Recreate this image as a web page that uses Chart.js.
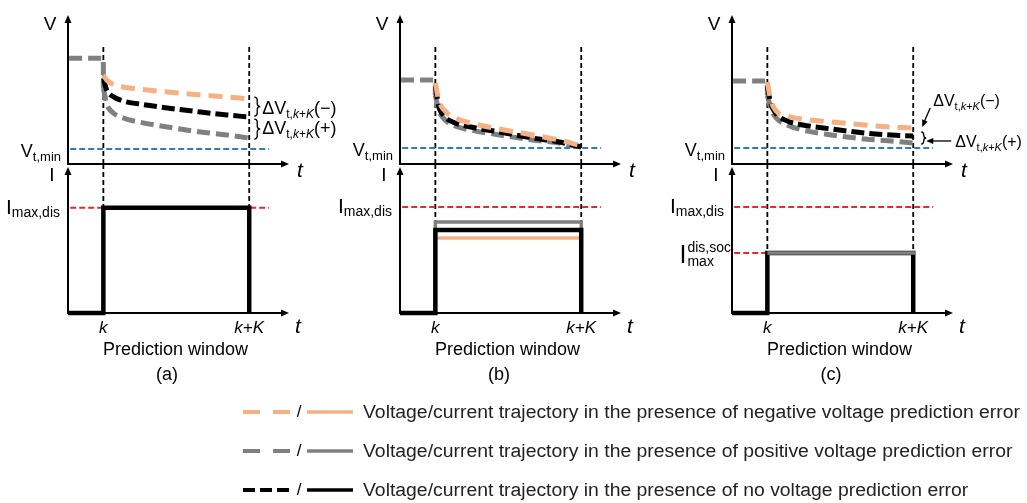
<!DOCTYPE html>
<html><head><meta charset="utf-8">
<script src="https://cdn.jsdelivr.net/npm/chart.js@4.4.1/dist/chart.umd.min.js"></script>
<style>
html,body{margin:0;padding:0;background:#fff;overflow:hidden;width:1027px;height:503px}
canvas.c{position:absolute;left:0;top:0}
</style></head>
<body>
<canvas id="va" class="c" width="1027" height="503"></canvas>
<canvas id="ia" class="c" width="1027" height="503"></canvas>
<canvas id="vb" class="c" width="1027" height="503"></canvas>
<canvas id="ib" class="c" width="1027" height="503"></canvas>
<canvas id="vc" class="c" width="1027" height="503"></canvas>
<canvas id="ic" class="c" width="1027" height="503"></canvas>
<script>
// ---------- data (arbitrary schematic units) ----------
const T_K = 1.6, T_KK = 8.2, T_END = 10, T_REF_START = 0.1, T_REF_END = 9.1;
const tickLabels = ['k', 'k+K'];
const tCurve = [1.6, 1.75, 2.0, 2.5, 3.2, 4.5, 6.0, 7.2, 8.2];

// panel (a)
const aVInit = 7.1, aVMin = 1.0, aIMaxDis = 7.2, aINone = 7.2;
const aVNeg  = [5.97, 5.64, 5.37, 5.17, 5.03, 4.83, 4.63, 4.50, 4.36];
const aVNone = [5.77, 4.97, 4.56, 4.23, 4.03, 3.76, 3.49, 3.29, 3.15];
const aVPos  = [5.10, 4.03, 3.49, 3.09, 2.82, 2.48, 2.15, 1.95, 1.74];

// panel (b)
const bVInit = 5.64, bVMin = 1.07, bIMaxDis = 7.26;
const bVNeg  = [5.44, 4.30, 3.62, 3.09, 2.75, 2.35, 1.95, 1.61, 1.21];
const bVNone = [5.23, 3.89, 3.22, 2.75, 2.48, 2.15, 1.74, 1.48, 1.14];
const bVPos  = [4.63, 3.62, 3.02, 2.55, 2.28, 1.95, 1.61, 1.41, 1.14];
const bINeg = 5.14, bINone = 5.68, bIPos = 6.23;

// panel (c)
const cVInit = 5.57, cVMin = 1.07, cIMaxDis = 7.26, cIMaxSoc = 4.11;
const cVNeg  = [5.50, 4.30, 3.56, 3.22, 3.02, 2.82, 2.62, 2.48, 2.42];
const cVNone = [5.23, 4.09, 3.36, 2.89, 2.62, 2.35, 2.08, 1.95, 1.88];
const cVPos  = [4.63, 3.76, 3.09, 2.62, 2.28, 1.95, 1.68, 1.54, 1.41];

const panelLabels = ['(a)', '(b)', '(c)'];
const xTitle = 'Prediction window';
const legendLabels = [
  'Voltage/current trajectory in the presence of negative voltage prediction error',
  'Voltage/current trajectory in the presence of positive voltage prediction error',
  'Voltage/current trajectory in the presence of no voltage prediction error'
];

// ---------- style / layout ----------
const FAMILY = '"Liberation Sans", Arial, sans-serif';
const C_NEG = '#F4B183', C_POS = '#808080', C_NONE = '#000000';
const C_BLUE = '#2E7BC4', C_RED = '#E62A2A';
const AXIS_X = [68, 400, 732], PANEL_W = 221;
const V_TOP = 15, V_BASE = 164, I_BASE = 313;
const V_MAX = 10, I_MAX = 10.2, V_KLINE_TOP = 8.0, I_TIP = 10.0;

const pts = (ts, vs) => ts.map((t, i) => ({x: t, y: vs[i]}));
function ds(data, color, width, dash, extra) {
  return Object.assign({data, borderColor: color, borderWidth: width, borderDash: dash || [],
    pointRadius: 0, fill: false, tension: 0, clip: false, borderCapStyle: 'butt', borderJoinStyle: 'miter'}, extra || {});
}
const curve = (vs, color, dash) => ds(pts(tCurve, vs), color, 5, dash, {cubicInterpolationMode: 'monotone'});

function font(size, italic) { return (italic ? 'italic ' : '') + size + 'px ' + FAMILY; }
function text(ctx, s, x, y, size, align, italic, base) {
  ctx.font = font(size, italic); ctx.textAlign = align || 'center'; ctx.textBaseline = base || 'middle';
  ctx.fillStyle = '#000'; ctx.fillText(s, x, y);
}
// parts: [str, size, dy, italic]
function rich(ctx, parts, x, y, align) {
  let w = 0;
  parts.forEach(p => { ctx.font = font(p[1], p[3]); p.w = ctx.measureText(p[0]).width; w += p.w; });
  let cx = align === 'right' ? x - w : align === 'center' ? x - w / 2 : x;
  ctx.textAlign = 'left'; ctx.textBaseline = 'alphabetic'; ctx.fillStyle = '#000';
  parts.forEach(p => { ctx.font = font(p[1], p[3]); ctx.fillText(p[0], cx, y + (p[2] || 0)); cx += p.w; });
}
function head(ctx, x, y, ang, len, half) {
  len = len || 8; half = half || 3.5;
  ctx.save(); ctx.translate(x, y); ctx.rotate(ang);
  ctx.beginPath(); ctx.moveTo(0, 0); ctx.lineTo(-len, -half); ctx.lineTo(-len, half); ctx.closePath();
  ctx.fill(); ctx.restore();
}
function brace(ctx, x, y1, y2, w) {
  const ym = (y1 + y2) / 2, xm = x + w / 2, r = Math.min(3, (y2 - y1) / 4);
  ctx.beginPath();
  ctx.moveTo(x, y1);
  ctx.quadraticCurveTo(xm, y1, xm, y1 + r);
  ctx.lineTo(xm, ym - r);
  ctx.quadraticCurveTo(xm, ym, x + w, ym);
  ctx.quadraticCurveTo(xm, ym, xm, ym + r);
  ctx.lineTo(xm, y2 - r);
  ctx.quadraticCurveTo(xm, y2, x, y2);
  ctx.stroke();
}
function deltaV(ctx, sign, x, y, S, s) {
  rich(ctx, [['\u0394V', S], ['t,', s, 4], ['k', s, 4, true], ['+', s, 4], ['K', s, 4, true], ['(' + sign + ')', S]], x, y, 'left');
}
function drawAxes(chart, tipValue) {
  const {ctx, scales: {x, y}} = chart;
  const x0 = x.getPixelForValue(0), y0 = y.getPixelForValue(0);
  const yTip = y.getPixelForValue(tipValue), xTip = x.getPixelForValue(T_END);
  ctx.save();
  ctx.strokeStyle = '#000'; ctx.fillStyle = '#000'; ctx.lineWidth = 2;
  ctx.beginPath(); ctx.moveTo(x0, y0 + 1); ctx.lineTo(x0, yTip + 6); ctx.stroke();
  ctx.beginPath(); ctx.moveTo(x0 - 1, y0); ctx.lineTo(xTip - 6, y0); ctx.stroke();
  head(ctx, x0, yTip, -Math.PI / 2); head(ctx, xTip, y0, 0);
  ctx.restore();
}

function makeChart(id, p, top, bottom, yMax, tip, datasets, extra) {
  return new Chart(document.getElementById(id), {
    type: 'line',
    data: {datasets},
    options: {
      responsive: false, animation: false, events: [],
      layout: {padding: {left: AXIS_X[p], right: 1027 - AXIS_X[p] - PANEL_W, top: top, bottom: 503 - bottom}},
      scales: {
        x: {type: 'linear', min: 0, max: T_END, display: false},
        y: {type: 'linear', min: 0, max: yMax, display: false}
      },
      plugins: {legend: {display: false}, tooltip: {enabled: false}}
    },
    plugins: [{
      id: 'sketch' + id,
      beforeDatasetsDraw(chart) { drawAxes(chart, tip); },
      afterDatasetsDraw(chart) { chart.ctx.save(); extra(chart); chart.ctx.restore(); }
    }]
  });
}

const kLine = (t, top) => ds([{x: t, y: 0}, {x: t, y: top}], '#000', 1.8, [5, 3]);

function vDatasets(vInit, vMin, vNeg, vNone, vPos) {
  return [
    curve(vNeg, C_NEG, [14, 8]),
    curve(vNone, C_NONE, [13, 5]),
    curve(vPos, C_POS, [13, 6]),
    ds([{x: 0.05, y: vInit}, {x: T_K, y: vInit}, {x: T_K, y: vPos[0]}], C_POS, 5, [13, 6]),
    ds([{x: T_REF_START, y: vMin}, {x: T_REF_END, y: vMin}], C_BLUE, 2, [6, 3]),
    kLine(T_K, V_KLINE_TOP), kLine(T_KK, V_KLINE_TOP)
  ];
}
const step = (level, from0) => ds((from0 ? [{x: 0, y: 0}] : []).concat([{x: T_K, y: 0}, {x: T_K, y: level}, {x: T_KK, y: level}, {x: T_KK, y: 0}]), C_NONE, 4.5);

function vLabels(chart, vMin) {
  const {ctx, scales: {x, y}} = chart;
  const x0 = x.getPixelForValue(0), y0 = y.getPixelForValue(0), xe = x.getPixelForValue(T_END);
  text(ctx, 'V', x0 - 18, y.getPixelForValue(V_MAX) + 10, 19);
  text(ctx, 't', xe + 11, y0 + 7, 21, 'center', true);
  rich(ctx, [['V', 18], ['t,min', 13, 4]], x0 - 7, y.getPixelForValue(vMin) + 8, 'right');
}
function iLabels(chart, p, iMax) {
  const {ctx, scales: {x, y}} = chart;
  const x0 = x.getPixelForValue(0), y0 = y.getPixelForValue(0), xe = x.getPixelForValue(T_END);
  text(ctx, 'I', x0 - 16, y.getPixelForValue(I_TIP) + 9, 19);
  text(ctx, 't', xe + 9, y0 + 14, 21, 'center', true);
  rich(ctx, [['I', 21], ['max,dis', 14, 3]], x0 - 8, y.getPixelForValue(iMax) + 6, 'right');
  text(ctx, tickLabels[0], x.getPixelForValue(T_K), y0 + 15, 17, 'center', true);
  text(ctx, tickLabels[1], x.getPixelForValue(T_KK), y0 + 15, 17, 'center', true);
  text(ctx, xTitle, (x0 + xe) / 2 - 3, y0 + 37, 18);
  text(ctx, panelLabels[p], x0 + 99, y0 + 62, 18);
}

// ---------- panel (a) ----------
makeChart('va', 0, V_TOP, V_BASE, V_MAX, V_MAX, vDatasets(aVInit, aVMin, aVNeg, aVNone, aVPos), chart => {
  vLabels(chart, aVMin);
  const {ctx, scales: {x, y}} = chart;
  const xb = x.getPixelForValue(T_KK) + 5;
  const yN = y.getPixelForValue(aVNeg[8]), yO = y.getPixelForValue(aVNone[8]), yP = y.getPixelForValue(aVPos[8]);
  ctx.strokeStyle = '#000'; ctx.lineWidth = 1.3;
  brace(ctx, xb, yN - 2, yO - 1, 6);
  brace(ctx, xb, yO + 2, yP + 1, 6);
  deltaV(ctx, '\u2212', xb + 8, (yN + yO) / 2 + 6, 18, 12);
  deltaV(ctx, '+', xb + 8, (yO + yP) / 2 + 6, 18, 12);
});
makeChart('ia', 0, V_BASE, I_BASE, I_MAX, I_TIP, [
  step(aINone, true),
  ds([{x: T_REF_START, y: aIMaxDis}, {x: T_REF_END, y: aIMaxDis}], C_RED, 2, [6, 3]),
  kLine(T_K, I_MAX), kLine(T_KK, I_MAX)
], chart => iLabels(chart, 0, aIMaxDis));

// ---------- panel (b) ----------
makeChart('vb', 1, V_TOP, V_BASE, V_MAX, V_MAX, vDatasets(bVInit, bVMin, bVNeg, bVNone, bVPos), chart => vLabels(chart, bVMin));
makeChart('ib', 1, V_BASE, I_BASE, I_MAX, I_TIP, [
  step(bINone, true),
  ds([{x: T_K, y: bINeg}, {x: T_KK, y: bINeg}], C_NEG, 3.5),
  Object.assign(step(bIPos, false), {borderColor: C_POS, borderWidth: 3.5}),
  ds([{x: T_REF_START, y: bIMaxDis}, {x: T_REF_END, y: bIMaxDis}], C_RED, 2, [6, 3]),
  kLine(T_K, I_MAX), kLine(T_KK, I_MAX)
], chart => iLabels(chart, 1, bIMaxDis));

// ---------- panel (c) ----------
makeChart('vc', 2, V_TOP, V_BASE, V_MAX, V_MAX, vDatasets(cVInit, cVMin, cVNeg, cVNone, cVPos), chart => {
  vLabels(chart, cVMin);
  const {ctx, scales: {x, y}} = chart;
  const xk = x.getPixelForValue(T_KK);
  const yN = y.getPixelForValue(cVNeg[8]), yO = y.getPixelForValue(cVNone[8]), yP = y.getPixelForValue(cVPos[8]);
  ctx.strokeStyle = '#000'; ctx.fillStyle = '#000'; ctx.lineWidth = 1.3;
  brace(ctx, xk + 8, yO - 4, yP + 1, 5);
  // arrow for (-)
  ctx.beginPath(); ctx.moveTo(xk + 17, yN - 20); ctx.lineTo(xk + 10, yN - 4); ctx.stroke();
  head(ctx, xk + 9, yN - 1, Math.atan2(19, -8), 7, 3);
  deltaV(ctx, '\u2212', xk + 20, yN - 22, 16, 11);
  // arrow for (+)
  const ya = yP - 2;
  ctx.beginPath(); ctx.moveTo(xk + 38, ya); ctx.lineTo(xk + 18, ya); ctx.stroke();
  head(ctx, xk + 13, ya, Math.PI, 7, 3);
  deltaV(ctx, '+', xk + 42, ya + 6, 16, 11);
});
makeChart('ic', 2, V_BASE, I_BASE, I_MAX, I_TIP, [
  ds([{x: T_K, y: cIMaxSoc}, {x: T_KK + 0.1, y: cIMaxSoc}], C_POS, 3.5),
  step(cIMaxSoc, true),
  ds([{x: T_REF_START, y: cIMaxDis}, {x: T_REF_END, y: cIMaxDis}], C_RED, 2, [6, 3]),
  ds([{x: T_REF_START, y: cIMaxSoc}, {x: T_K, y: cIMaxSoc}], C_RED, 2, [6, 3]),
  kLine(T_K, I_MAX), kLine(T_KK, I_MAX)
], chart => {
  iLabels(chart, 2, cIMaxDis);
  const {ctx, scales: {x, y}} = chart;
  const x0 = x.getPixelForValue(0), ys = y.getPixelForValue(cIMaxSoc);
  ctx.font = font(14); const wsup = ctx.measureText('dis,soc').width;
  ctx.font = font(25); const wI = ctx.measureText('I').width;
  const left = x0 - 2 - wsup - wI;
  ctx.textAlign = 'left'; ctx.textBaseline = 'alphabetic'; ctx.fillStyle = '#000';
  ctx.font = font(25); ctx.fillText('I', left, ys + 10);
  ctx.font = font(14); ctx.fillText('dis,soc', left + wI + 1, ys - 1); ctx.fillText('max', left + wI + 1, ys + 13);

  // ---------- legend ----------
  const colors = [C_NEG, C_POS, C_NONE];
  const dashes = [[17, 13], [17, 13], [12, 5]];
  const rows = [412, 451, 490];
  ctx.font = font(18);
  const sx = 657 / ctx.measureText(legendLabels[0]).width;
  rows.forEach((ry, i) => {
    ctx.strokeStyle = colors[i]; ctx.lineWidth = 4; ctx.lineCap = 'butt';
    ctx.setLineDash(dashes[i]);
    ctx.beginPath(); ctx.moveTo(243, ry); ctx.lineTo(290, ry); ctx.stroke();
    ctx.setLineDash([]); ctx.lineWidth = 3.5;
    ctx.beginPath(); ctx.moveTo(307, ry); ctx.lineTo(353, ry); ctx.stroke();
    text(ctx, '/', 299, ry, 17);
    ctx.save(); ctx.translate(363, ry + 6); ctx.scale(sx, 1);
    ctx.font = font(18); ctx.textAlign = 'left'; ctx.textBaseline = 'alphabetic'; ctx.fillStyle = '#222';
    ctx.fillText(legendLabels[i], 0, 0); ctx.restore();
  });
});
</script>
</body></html>
